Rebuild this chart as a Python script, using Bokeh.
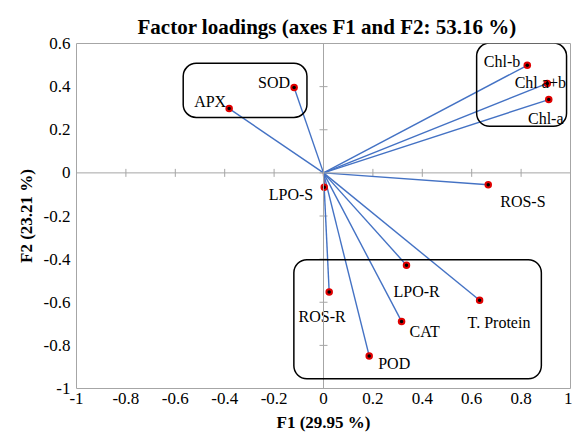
import math
from bokeh.plotting import figure
from bokeh.models import (Span, BoxAnnotation, FixedTicker, CustomJSTickFormatter,
                          ColumnDataSource)
from bokeh.core.properties import value
from bokeh.embed import file_html
from bokeh.resources import INLINE

# ---- data ----
variables = ["APX", "SOD", "Chl-b", "Chl a+b", "Chl-a", "LPO-S", "ROS-S",
             "ROS-R", "LPO-R", "T. Protein", "CAT", "POD"]
f1 = [-0.382, -0.119, 0.825, 0.906, 0.912, 0.003, 0.667,
      0.023, 0.336, 0.632, 0.316, 0.185]
f2 = [0.298, 0.396, 0.499, 0.415, 0.340, -0.067, -0.055,
      -0.552, -0.428, -0.591, -0.689, -0.849]
x_ticks = [-1, -0.8, -0.6, -0.4, -0.2, 0, 0.2, 0.4, 0.6, 0.8, 1]
y_ticks = [-1, -0.8, -0.6, -0.4, -0.2, 0, 0.2, 0.4, 0.6]
title_text = "Factor loadings (axes F1 and F2: 53.16 %)"
x_label = "F1 (29.95 %)"
y_label = "F2 (23.21 %)"
# group boxes: left, right, top, bottom (data units)
box_left = [-0.568, 0.620, -0.120]
box_right = [-0.067, 0.984, 0.882]
box_top = [0.508, 0.602, -0.403]
box_bottom = [0.257, 0.216, -0.955]

# ---- styles / label placement (pixels) ----
FONT = "Liberation Serif"
GRAY = "#A6A6A6"
BLUE = "#4472C4"
label_place = {
    "APX": ("right", -3, -7),
    "SOD": ("right", -4, -5),
    "Chl-b": ("right", -7, -4),
    "Chl a+b": ("center", -7, -1),
    "Chl-a": ("center", -3, 19),
    "LPO-S": ("right", -11, 7),
    "ROS-S": ("left", 12, 17),
    "ROS-R": ("center", -7, 25),
    "LPO-R": ("left", -13, 26),
    "T. Protein": ("left", -12, 22),
    "CAT": ("left", 8, 10),
    "POD": ("left", 9, 8),
}

p = figure(width=572, height=438, x_range=(-1, 1), y_range=(-1, 0.6),
           output_backend="svg", toolbar_location=None,
           min_border_left=76, min_border_right=2, min_border_top=43,
           min_border_bottom=50)
p.background_fill_color = "white"
p.border_fill_color = "white"
p.outline_line_color = GRAY
p.outline_line_width = 1
p.xgrid.visible = False
p.ygrid.visible = False

fmt = CustomJSTickFormatter(code="return String(Math.round(tick*10)/10);")
for ax, ticks, lab in ((p.xaxis[0], x_ticks, x_label), (p.yaxis[0], y_ticks, y_label)):
    ax.ticker = FixedTicker(ticks=ticks)
    ax.formatter = fmt
    ax.axis_line_color = None
    ax.major_tick_line_color = None
    ax.minor_tick_line_color = None
    ax.major_tick_in = 0
    ax.major_tick_out = 0
    ax.major_label_text_font = FONT
    ax.major_label_text_font_size = "17px"
    ax.major_label_text_color = "black"
    ax.axis_label = lab
    ax.axis_label_text_font = FONT
    ax.axis_label_text_font_style = "bold"
    ax.axis_label_text_font_size = "17px"
    ax.axis_label_text_color = "black"
p.xaxis[0].major_label_standoff = 4
p.xaxis[0].axis_label_standoff = 6
p.yaxis[0].major_label_standoff = 6
p.yaxis[0].axis_label_standoff = 5

p.title.text = title_text
p.title.text_font = FONT
p.title.text_font_style = "bold"
p.title.text_font_size = "21px"
p.title.align = "left"
p.title.offset = 61
p.title.text_color = "black"

# centre axes
p.add_layout(Span(location=0, dimension="width", line_color=GRAY, line_width=1))
p.add_layout(Span(location=0, dimension="height", line_color=GRAY, line_width=1))
p.scatter(x=x_ticks, y=[0] * len(x_ticks), marker="dash", size=8, angle=math.pi / 2,
          line_color=GRAY, line_width=1)
p.scatter(x=[0] * len(y_ticks), y=y_ticks, marker="dash", size=8,
          line_color=GRAY, line_width=1)

# vectors
colors = ["#E00000" if v == "LPO-S" else BLUE for v in variables]
src = ColumnDataSource(dict(x0=[0] * len(f1), y0=[0] * len(f2), x=f1, y=f2,
                            name=variables, color=colors))
p.segment(x0="x0", y0="y0", x1="x", y1="y", line_color="color", line_width=1.4,
          source=src)
p.scatter(x="x", y="y", size=7.5, fill_color="#E00000", line_color=None, source=src)
p.scatter(x="x", y="y", size=3.5, fill_color="black", line_color=None, source=src)

# labels
for name, x, y in zip(variables, f1, f2):
    align, dx, dy = label_place[name]
    p.text(x=[x], y=[y], text=[name], text_align=align, text_baseline="alphabetic",
           x_offset=dx, y_offset=dy, text_font=value(FONT),
           text_font_size="16px", text_color="black")

# group boxes
for l, r, t, b in zip(box_left, box_right, box_top, box_bottom):
    p.add_layout(BoxAnnotation(left=l, right=r, top=t, bottom=b, fill_alpha=0,
                               line_color="black", line_alpha=1, line_width=1.5,
                               border_radius=13))

open("out.html", "w").write(file_html(p, INLINE))
